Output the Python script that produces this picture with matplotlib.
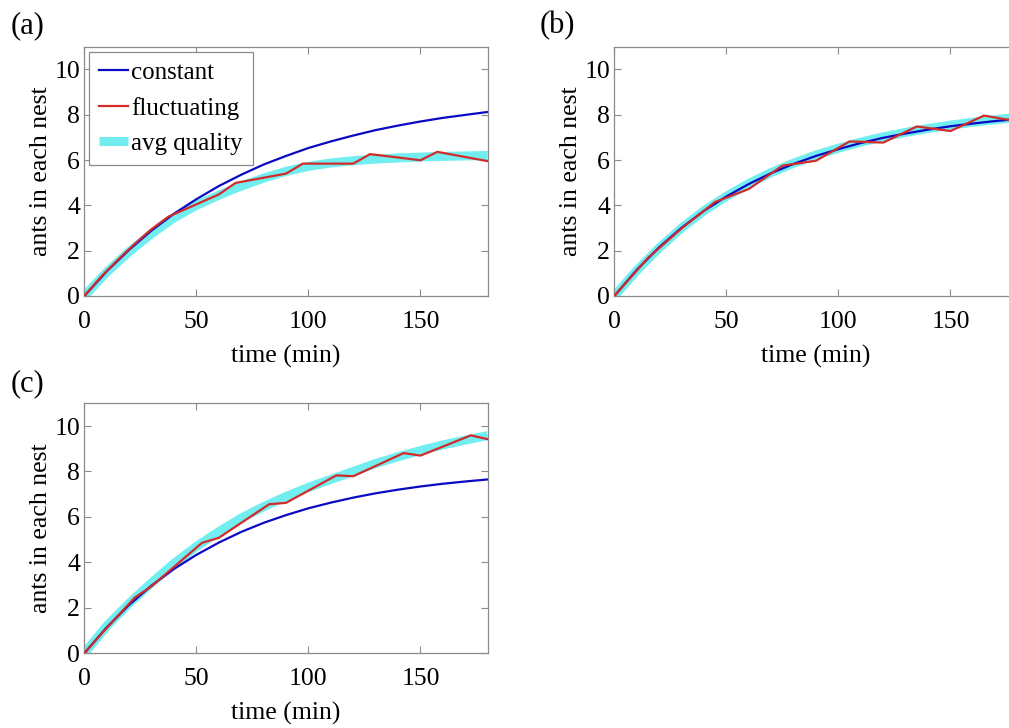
"""
Ants in each nest over time: constant vs fluctuating nest quality.
"""

import numpy as np
import matplotlib.pyplot as plt

plt.rcParams['font.family'] = ['Liberation Serif', 'DejaVu Serif']
plt.rcParams['mathtext.fontset'] = 'stix'

# colour constants
BLUE = '#0a0ac4'
RED = '#d42a2a'
CYAN = '#72eef0'
GREY = '#8a8a8a'

# smooth curves sampled every 10 min
t_smooth = [0, 10, 20, 30, 40, 50, 60, 70, 80, 90,
            100, 110, 120, 130, 140, 150, 160, 170, 180]

# (a)
a_constant = [0, 1.09, 2.04, 2.89, 3.63, 4.27, 4.85, 5.35, 5.80, 6.18,
              6.53, 6.82, 7.08, 7.32, 7.52, 7.70, 7.86, 7.99, 8.12]
a_avg = [0, 1.05, 1.95, 2.75, 3.45, 4.00, 4.45, 4.85, 5.20, 5.50,
         5.72, 5.87, 5.97, 6.04, 6.09, 6.13, 6.16, 6.18, 6.20]
a_fluct_t = [0, 7.5, 15, 22.5, 30, 37.5, 60, 67.5, 90, 97.5,
             120, 127.5, 150, 157.5, 180]
a_fluct = [0, 0.85, 1.6, 2.3, 2.95, 3.5, 4.48, 4.99, 5.40, 5.84,
           5.84, 6.26, 5.99, 6.36, 5.95]

# (b)
b_constant = [0, 1.15, 2.15, 3.01, 3.76, 4.39, 4.94, 5.42, 5.83, 6.18,
              6.48, 6.75, 6.98, 7.17, 7.34, 7.49, 7.61, 7.72, 7.81]
b_avg = [0, 1.12, 2.12, 3.00, 3.76, 4.40, 4.96, 5.45, 5.86, 6.22,
         6.52, 6.79, 7.02, 7.22, 7.39, 7.54, 7.67, 7.78, 7.88]
b_fluct_t = [0, 15, 30, 45, 60, 75, 90, 105, 120, 135, 150, 165, 180]
b_fluct = [0, 1.68, 2.98, 4.15, 4.72, 5.75, 5.97, 6.82, 6.77, 7.48,
           7.28, 7.96, 7.70]

# (c)
c_constant = [0, 1.14, 2.13, 2.98, 3.71, 4.33, 4.87, 5.34, 5.74, 6.08,
              6.38, 6.63, 6.85, 7.04, 7.20, 7.34, 7.46, 7.56, 7.65]
c_avg = [0, 1.20, 2.20, 3.10, 3.95, 4.70, 5.35, 5.95, 6.45, 6.90,
         7.30, 7.65, 8.00, 8.35, 8.65, 8.92, 9.17, 9.38, 9.58]
c_fluct_t = [0, 7.5, 15, 22.5, 30, 52.5, 60, 82.5, 90, 112.5,
             120, 142.5, 150, 172.5, 180]
c_fluct = [0, 0.85, 1.65, 2.45, 2.95, 4.86, 5.08, 6.56, 6.62, 7.83,
           7.79, 8.81, 8.70, 9.59, 9.42]

panels = [
    ('(a)', a_constant, a_fluct_t, a_fluct, a_avg),
    ('(b)', b_constant, b_fluct_t, b_fluct, b_avg),
    ('(c)', c_constant, c_fluct_t, c_fluct, c_avg),
]

W, H = 1009, 728
fig = plt.figure(figsize=(W / 100, H / 100), dpi=100)

# axes boxes in pixels: left, top, right, bottom
boxes = [(84.3, 46.7, 487.7, 296.0),
         (614.3, 46.7, 1017.7, 296.0),
         (84.3, 403.3, 487.7, 653.3)]
label_pos = [(11, 26), (540, 26), (11, 384)]

for (name, const, ft, fv, avg), box, lp in zip(panels, boxes, label_pos):
    l, t, r, b = box
    ax = fig.add_axes([l / W, 1 - b / H, (r - l) / W, (b - t) / H])
    ax.plot(t_smooth, avg, color=CYAN, lw=6.5, solid_capstyle='butt',
            label='avg quality', zorder=1)
    ax.plot(t_smooth, const, color=BLUE, lw=1.6, label='constant', zorder=2)
    ax.plot(ft, fv, color=RED, lw=1.6, label='fluctuating', zorder=3)

    ax.set_xlim(0, 180)
    ax.set_ylim(0, 11)
    ax.set_xticks([0, 50, 100, 150])
    ax.set_yticks([0, 2, 4, 6, 8, 10])
    ax.tick_params(direction='in', top=True, right=True, length=5,
                   width=0.8, color=GREY, labelsize=18.5)
    ax.tick_params(axis='x', pad=10.5)
    ax.tick_params(axis='y', pad=3)
    for s in ax.spines.values():
        s.set_color(GREY)
        s.set_linewidth(0.9)
    ax.set_xlabel('time (min)', fontsize=18.5, labelpad=9)
    ax.set_ylabel('ants in each nest', fontsize=18.5, labelpad=2)
    fig.text(lp[0] / W, 1 - lp[1] / H, name, fontsize=22,
             ha='left', va='center')

    if name == '(a)':
        h, lab = ax.get_legend_handles_labels()
        order = [1, 2, 0]
        leg = ax.legend([h[i] for i in order], [lab[i] for i in order],
                        loc='upper left', fontsize=18, fancybox=False,
                        framealpha=1, edgecolor=GREY, handlelength=1.15,
                        handletextpad=0.12, borderpad=0.4, labelspacing=0.5,
                        borderaxespad=0.2)
        leg.get_frame().set_linewidth(0.9)

fig.savefig('out.png', dpi=100)
